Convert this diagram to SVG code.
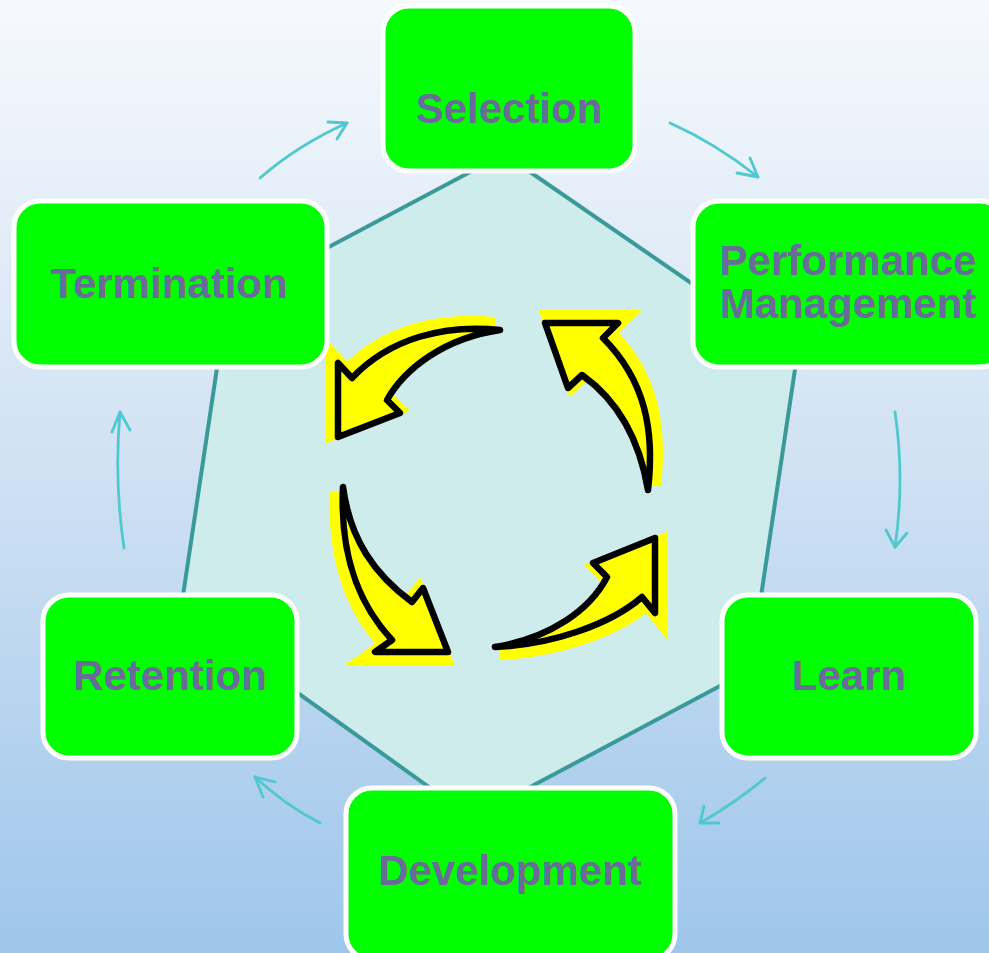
<svg xmlns="http://www.w3.org/2000/svg" width="989" height="953" viewBox="0 0 989 953">
<defs>
<linearGradient id="bg" x1="0" y1="0" x2="0" y2="1">
<stop offset="0" stop-color="#f6f9fd"/>
<stop offset="0.5" stop-color="#cfe1f3"/>
<stop offset="1" stop-color="#9ec6eb"/>
</linearGradient>
<style>
.node rect{fill:#00ff00;stroke:#ffffff;stroke-width:5}
.node text{font-family:"Liberation Sans",Arial,sans-serif;font-weight:bold;font-size:42px;fill:#6a6a9b;text-anchor:middle}
.conn path{fill:none;stroke:#4fc8d0;stroke-width:2.8;stroke-linecap:round;stroke-linejoin:round}
.glow{fill:#ffff00;stroke:#ffff00;stroke-width:16;stroke-linejoin:miter}
.arr{fill:#ffff00;stroke:#000000;stroke-width:6.5;stroke-linejoin:round;stroke-linecap:round}
</style>
</defs>
<rect width="989" height="953" fill="url(#bg)"/>
<polygon id="hexagon" points="504,154 797,356 750,670 472,818 181,609 227,301" fill="#cdeceb" stroke="#3a9a9a" stroke-width="4"/>
<g id="cycle">
<path class="glow" transform="translate(-5,-5)" d="M500,330 C445,324 390,338 352,378 L338,363 L338,437 L400,413 L387,400 C405,368 445,338 500,330 Z"/>
<path class="glow" transform="translate(5,-5)" d="M648,490 C655,430 645,380 603,338 L618,323 L545,323 L568,388 L582,375 C610,395 638,430 648,490 Z"/>
<path class="glow" transform="translate(-5,5)" d="M343,487 C340,550 355,600 392,640 L375,652 L448,652 L423,588 L412,602 C375,575 350,540 343,487 Z"/>
<path class="glow" transform="translate(5,5)" d="M495,647 C550,645 610,625 642,597 L655,613 L655,538 L593,563 L607,577 C590,610 550,638 495,647 Z"/>
<path class="arr" d="M500,330 C445,324 390,338 352,378 L338,363 L338,437 L400,413 L387,400 C405,368 445,338 500,330 Z"/>
<path class="arr" d="M648,490 C655,430 645,380 603,338 L618,323 L545,323 L568,388 L582,375 C610,395 638,430 648,490 Z"/>
<path class="arr" d="M343,487 C340,550 355,600 392,640 L375,652 L448,652 L423,588 L412,602 C375,575 350,540 343,487 Z"/>
<path class="arr" d="M495,647 C550,645 610,625 642,597 L655,613 L655,538 L593,563 L607,577 C590,610 550,638 495,647 Z"/>
</g>
<g id="node-selection" class="node"><rect x="383" y="6" width="252" height="165" rx="26"/><text x="509" y="123">Selection</text></g>
<g id="node-performance" class="node"><rect x="693" y="201" width="313" height="166" rx="26"/><text x="848" y="275">Performance</text><text x="848" y="318">Management</text></g>
<g id="node-learn" class="node"><rect x="722" y="595" width="254" height="163" rx="26"/><text x="849" y="690">Learn</text></g>
<g id="node-development" class="node"><rect x="346" y="788" width="329" height="172" rx="26"/><text x="510" y="885">Development</text></g>
<g id="node-retention" class="node"><rect x="43" y="595" width="254" height="163" rx="26"/><text x="170" y="690">Retention</text></g>
<g id="node-termination" class="node"><rect x="14" y="201" width="313" height="166" rx="26"/><text x="169" y="298">Termination</text></g>
<g id="connectors" class="conn">
<path d="M260,178 Q298,145 347,123"/><path d="M328,122 L347,123 L337,139"/>
<path d="M670,123 Q715,143 758,177"/><path d="M737,173 L758,177 L750,158"/>
<path d="M895,412 Q905,480 895,547"/><path d="M886,530 L895,547 L907,533"/>
<path d="M765,778 Q735,803 700,823"/><path d="M704,806 L700,823 L719,823"/>
<path d="M320,823 Q285,805 255,777"/><path d="M275,782 L255,777 L263,797"/>
<path d="M124,548 Q114,480 120,412"/><path d="M112,432 L120,412 L130,430"/>
</g>
</svg>
